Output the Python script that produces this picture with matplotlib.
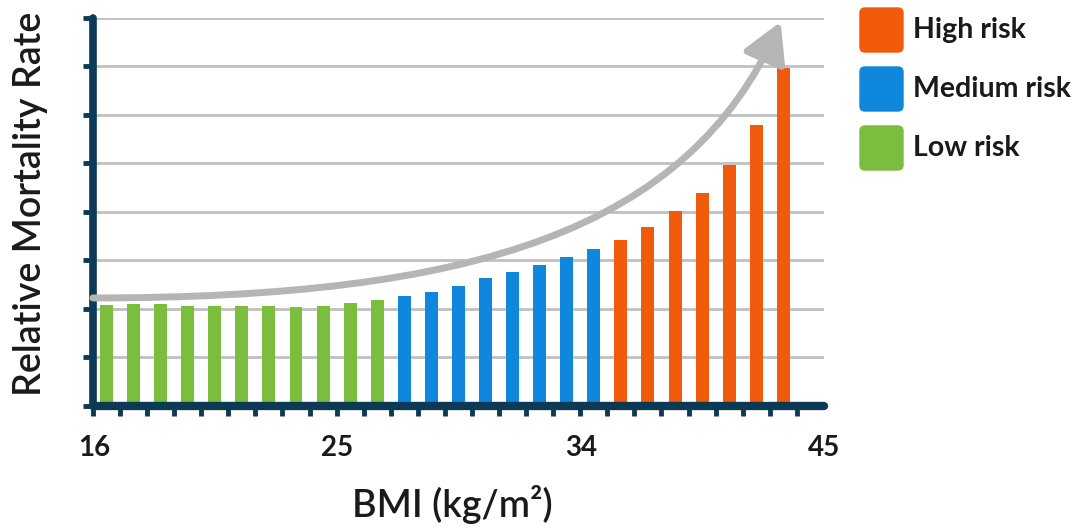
import numpy as np
import matplotlib.pyplot as plt
from matplotlib.patches import FancyArrowPatch, FancyBboxPatch
from matplotlib.path import Path

# bar heights (in gridline units)
low_risk = [2.07, 2.10, 2.09, 2.05, 2.05, 2.05, 2.05, 2.03, 2.05, 2.12, 2.17]
medium_risk = [2.26, 2.34, 2.46, 2.63, 2.75, 2.91, 3.06, 3.23]
high_risk = [3.42, 3.68, 4.01, 4.39, 4.97, 5.78, 6.96]
bmi_labels = ["16", "25", "34", "45"]
legend_labels = ["High risk", "Medium risk", "Low risk"]
# trend arrow bezier control points (slot, rate)
trend_x = [0.0, 14.0, 22.0, 25.4]
trend_y = [2.22, 2.22, 3.6, 7.92]

green = "#7bbd3c"
blue = "#0f87dc"
orange = "#f25a0b"
navy = "#0c3a55"
grey = "#b5b5b5"
txt = "#1a1a1a"

plt.rcParams['font.family'] = ['Lato', 'DejaVu Sans']
fig = plt.figure(figsize=(10.91, 5.28), dpi=100)
ax = fig.add_axes([0.0852, 0.232, 0.670, 0.734])

values = low_risk + medium_risk + high_risk
colors = [green] * len(low_risk) + [blue] * len(medium_risk) + [orange] * len(high_risk)
x = np.arange(len(values)) + 0.5
ax.bar(x, values, width=0.48, color=colors, zorder=2)

n_slots = len(values) + 1
ax.set_xlim(0, n_slots)
ax.set_ylim(0, 8)

# grid
ax.set_yticks(range(9))
ax.set_yticklabels([])
ax.yaxis.grid(True, color="#c0c0c0", lw=2)
ax.set_axisbelow(True)

# axes lines
for s in ["top", "right"]:
    ax.spines[s].set_visible(False)
ax.spines["left"].set_linewidth(5.5)
ax.spines["bottom"].set_linewidth(6)
for s in ["left", "bottom"]:
    ax.spines[s].set_color(navy)
    ax.spines[s].set_capstyle("round")
    ax.spines[s].set_zorder(3)

ax.set_xticks(np.arange(n_slots + 1), minor=True)
label_pos = np.linspace(0.05, n_slots, len(bmi_labels))
ax.set_xticks(label_pos, bmi_labels, fontweight="bold")
ax.tick_params(axis="x", which="major", length=0, pad=21, labelsize=20, labelcolor=txt)
ax.tick_params(axis="x", which="minor", length=7, width=3.5, color=navy, direction="out")
ax.tick_params(axis="y", length=7, width=3.5, color=navy, direction="out")

# trend arrow
path = Path(list(zip(trend_x, trend_y)), [Path.MOVETO, Path.CURVE4, Path.CURVE4, Path.CURVE4])
arrow = FancyArrowPatch(path=path, arrowstyle="-|>,head_length=0.6,head_width=0.34",
                        mutation_scale=40, lw=5, color=grey, zorder=4, clip_on=False)
ax.add_patch(arrow)

fig.text(0.028, 0.614, "Relative Mortality Rate", rotation=90, ha="center", va="center",
         fontsize=27, fontweight="semibold", color=txt)
fig.text(0.415, 0.044, "BMI (kg/m²)", ha="center", va="center", fontsize=27,
         fontweight="semibold", color=txt)

# legend
for i, (lab, col) in enumerate(zip(legend_labels, [orange, blue, green])):
    top = 0.08 + i * 0.59
    box = FancyBboxPatch((8.60, 5.28 - top - 0.44), 0.43, 0.44,
                         boxstyle="round,pad=0,rounding_size=0.05",
                         transform=fig.dpi_scale_trans, color=col)
    fig.add_artist(box)
    fig.text(9.13, 5.28 - top - 0.22, lab, transform=fig.dpi_scale_trans,
             ha="left", va="center", fontsize=20.5, fontweight="bold", color=txt)

fig.savefig("out.png", dpi=100)
